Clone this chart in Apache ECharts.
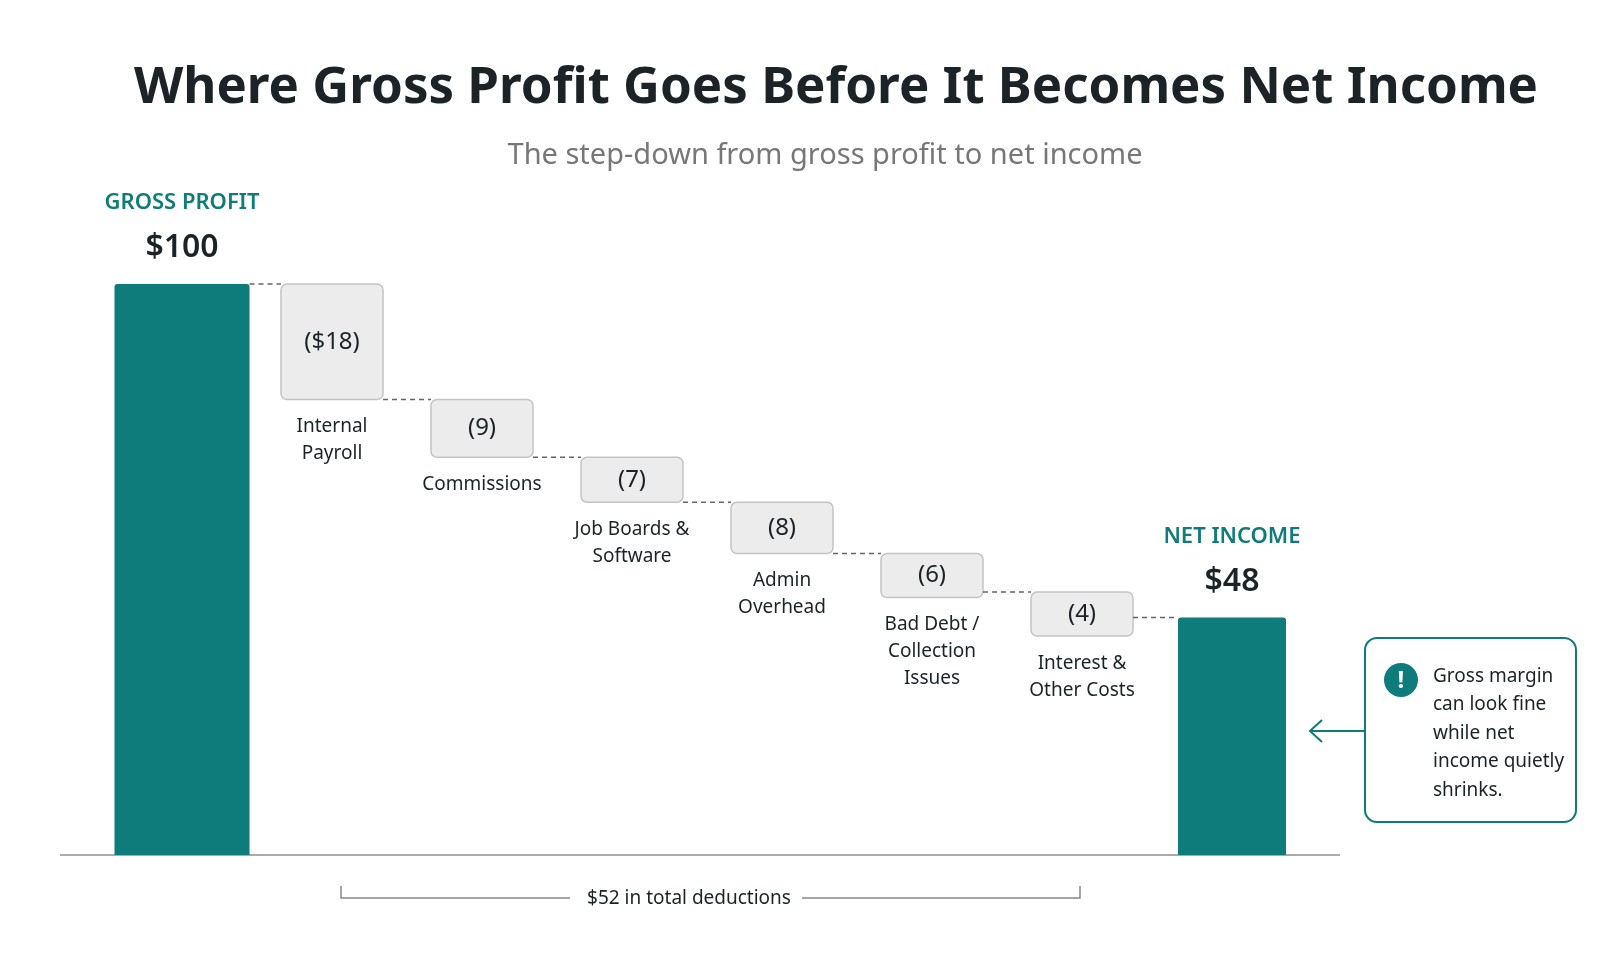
<!DOCTYPE html>
<html>
<head>
<meta charset="utf-8">
<script src="https://cdn.jsdelivr.net/npm/echarts@6/dist/echarts.min.js"></script>
<style>
  html, body { margin: 0; padding: 0; background: #fff; }
  #main { width: 1619px; height: 971px; }
</style>
</head>
<body>
<div id="main"></div>
<script>
// data
var categories = ['Gross Profit', 'Internal\nPayroll', 'Commissions', 'Job Boards &\nSoftware', 'Admin\nOverhead', 'Bad Debt /\nCollection\nIssues', 'Interest &\nOther Costs', 'Net Income'];
var grossProfit = 100;
var deductions = [18, 9, 7, 8, 6, 4];
var deductionLabels = ['($18)', '(9)', '(7)', '(8)', '(6)', '(4)'];
var netIncome = 48;

var TEAL = '#0e7c7b';
var FONT = '"Noto Sans", Lato, sans-serif';
var MIN_BOX = 44;

// build steps: [index, start, end]
var steps = [[0, 0, grossProfit]];
var level = grossProfit;
deductions.forEach(function (d, i) {
  steps.push([i + 1, level, level - d]);
  level -= d;
});
steps.push([7, 0, netIncome]);

var chart = echarts.init(document.getElementById('main'));

function widthFor(idx, bandW) {
  if (idx === 0) return bandW * 0.9;
  if (idx === 7) return bandW * 0.72;
  return bandW * 0.68;
}

function renderItem(params, api) {
  var idx = api.value(0), start = api.value(1), end = api.value(2);
  var bandW = api.size([1, 0])[0];
  var isTotal = idx === 0 || idx === 7;
  var w = widthFor(idx, bandW);
  var c = api.coord([idx, 0]);
  var yTop = api.coord([idx, Math.max(start, end)])[1];
  var yBot = isTotal ? params.coordSys.y + params.coordSys.height : api.coord([idx, Math.min(start, end)])[1];
  var x0 = c[0] - w / 2;
  var children = [];
  if (isTotal) {
    children.push({ type: 'rect', shape: { x: x0, y: yTop, width: w, height: yBot - yTop, r: [3, 3, 0, 0] }, style: { fill: TEAL } });
    children.push({ type: 'text', style: { text: idx === 0 ? 'GROSS PROFIT' : 'NET INCOME', x: c[0], y: yTop - 81, align: 'center', verticalAlign: 'middle', fill: TEAL, font: '600 22px ' + FONT } });
    children.push({ type: 'text', style: { text: '$' + (idx === 0 ? grossProfit : netIncome), x: c[0], y: yTop - 36, align: 'center', verticalAlign: 'middle', fill: '#1b2327', font: '600 32px ' + FONT } });
  } else {
    var boxBot = Math.max(yBot, yTop + MIN_BOX);
    children.push({ type: 'rect', shape: { x: x0, y: yTop, width: w, height: boxBot - yTop, r: 6 }, style: { fill: '#ececec', stroke: '#c4c4c4', lineWidth: 1.5 } });
    children.push({ type: 'text', style: { text: deductionLabels[idx - 1], x: c[0], y: (yTop + boxBot) / 2, align: 'center', verticalAlign: 'middle', fill: '#1b2327', font: '24px ' + FONT } });
    children.push({ type: 'text', style: { text: categories[idx], x: c[0], y: boxBot + 14, align: 'center', verticalAlign: 'top', fill: '#1b2327', font: '19px ' + FONT, lineHeight: 27 } });
  }
  // dashed connector to the next step
  if (idx < 7) {
    var yl = api.coord([idx, end])[1];
    var nx = api.coord([idx + 1, 0])[0] - widthFor(idx + 1, bandW) / 2;
    children.push({ type: 'line', shape: { x1: x0 + w, y1: yl, x2: nx, y2: yl }, style: { stroke: '#666', lineWidth: 1.5, lineDash: [5, 4] } });
  }
  return { type: 'group', children: children };
}

var option = {
  backgroundColor: '#fff',
  title: [
    { text: 'Where Gross Profit Goes Before It Becomes Net Income', left: 831, top: 58, textAlign: 'center', textStyle: { fontFamily: FONT, fontSize: 51, fontWeight: 'bold', color: '#1b2327' } },
    { text: 'The step-down from gross profit to net income', left: 820, top: 136, textAlign: 'center', textStyle: { fontFamily: FONT, fontSize: 29, fontWeight: 'normal', color: '#777' } }
  ],
  grid: { left: 107, right: 312, top: 284, bottom: 116 },
  xAxis: { type: 'value', min: -0.5, max: 7.5, show: false, splitLine: { show: false } },
  yAxis: { type: 'value', min: 11, max: 100, show: false, splitLine: { show: false } },
  series: [{ type: 'custom', renderItem: renderItem, data: steps, encode: { x: 0, y: [1, 2] }, clip: false }],
  graphic: [
    { type: 'line', shape: { x1: 60, y1: 855, x2: 1340, y2: 855 }, style: { stroke: '#aaa', lineWidth: 2 } },
    { type: 'polyline', shape: { points: [[341, 886], [341, 898], [570, 898]] }, style: { stroke: '#888', lineWidth: 1.5, fill: null } },
    { type: 'polyline', shape: { points: [[802, 898], [1080, 898], [1080, 886]] }, style: { stroke: '#888', lineWidth: 1.5, fill: null } },
    { type: 'text', style: { text: '$52 in total deductions', x: 689, y: 899, align: 'center', verticalAlign: 'middle', fill: '#1b2327', font: '19px ' + FONT } },
    { type: 'rect', shape: { x: 1365, y: 638, width: 211, height: 184, r: 12 }, style: { fill: '#fff', stroke: TEAL, lineWidth: 2 } },
    { type: 'line', shape: { x1: 1310, y1: 731, x2: 1365, y2: 731 }, style: { stroke: TEAL, lineWidth: 2 } },
    { type: 'polyline', shape: { points: [[1322, 720], [1310, 731], [1322, 742]] }, style: { stroke: TEAL, lineWidth: 2, fill: null } },
    { type: 'circle', shape: { cx: 1401, cy: 680, r: 17 }, style: { fill: TEAL } },
    { type: 'text', style: { text: '!', x: 1401, y: 681, align: 'center', verticalAlign: 'middle', fill: '#fff', font: 'bold 24px ' + FONT } },
    { type: 'text', style: { text: 'Gross margin\ncan look fine\nwhile net\nincome quietly\nshrinks.', x: 1433, y: 662, verticalAlign: 'top', fill: '#1b2327', font: '19px ' + FONT, lineHeight: 28.5 } }
  ]
};
chart.setOption(option);
</script>
</body>
</html>
